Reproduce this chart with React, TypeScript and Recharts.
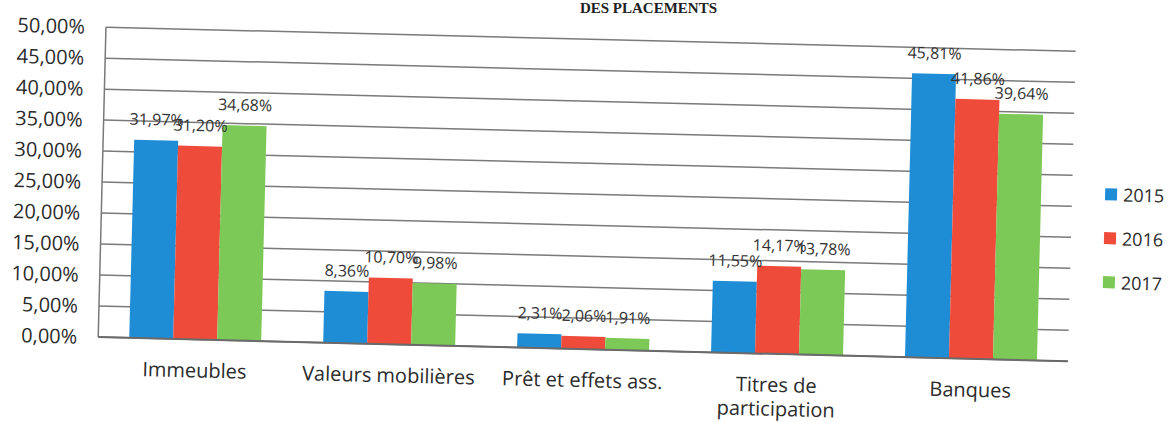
import { BarChart, Bar, XAxis, YAxis, CartesianGrid, LabelList } from 'recharts'

// Répartition des placements, en % du total
const CATEGORIES = ['Immeubles', 'Valeurs mobilières', 'Prêt et effets ass.', 'Titres de\nparticipation', 'Banques']
const YEARS = ['2015', '2016', '2017']
const VALUES_2015 = [31.97, 8.36, 2.31, 11.55, 45.81]
const VALUES_2016 = [31.2, 10.7, 2.06, 14.17, 41.86]
const VALUES_2017 = [34.68, 9.98, 1.91, 13.78, 39.64]
const Y_TICKS = [0, 5, 10, 15, 20, 25, 30, 35, 40, 45, 50]
const COLORS = ['#1f8dd6', '#ee4b3b', '#7cc957']

const FONT = "'Open Sans', sans-serif"

const data = CATEGORIES.map((name, i) => ({
  name,
  v0: VALUES_2015[i],
  v1: VALUES_2016[i],
  v2: VALUES_2017[i],
}))

const pct = (v: number) => `${Number(v).toFixed(2).replace('.', ',')}%`

function CategoryTick({ x, y, payload }: { x?: number; y?: number; payload?: { value: string } }) {
  const lines = String(payload?.value ?? '').split('\n')
  return (
    <text x={x} y={(y ?? 0) + 38} textAnchor="middle" fontSize={20} fontFamily={FONT} fill="#2b2b2b">
      {lines.map((l, i) => (
        <tspan key={i} x={x} dy={i === 0 ? 0 : 24}>
          {l}
        </tspan>
      ))}
    </text>
  )
}

export default function App() {
  return (
    <div style={{ position: 'absolute', left: 0, top: 0, width: 1173, height: 422, overflow: 'hidden', background: '#fff' }}>
      <svg width={1173} height={20} style={{ position: 'absolute', left: 0, top: 0 }}>
        <text x={717} y={13} textAnchor="end" fontSize={15} fontWeight="bold" fontFamily="'Liberation Serif', serif" fill="#222">
          DES PLACEMENTS
        </text>
      </svg>
      <div
        style={{
          position: 'absolute',
          left: 0,
          top: 0,
          width: 1173,
          height: 422,
          transform: 'rotate(1.43deg)',
          transformOrigin: '100px 25px',
        }}
      >
        <BarChart
          width={1173}
          height={422}
          data={data}
          margin={{ top: 27, right: 97, bottom: 0, left: 0 }}
          barGap={0}
          barCategoryGap="16%"
        >
          <CartesianGrid vertical={false} stroke="#7a7a7a" strokeWidth={1.5} />
          <XAxis
            dataKey="name"
            height={85}
            tickSize={0}
            tickMargin={0}
            tickLine={false}
            axisLine={{ stroke: '#6a6a6a', strokeWidth: 2 }}
            tick={<CategoryTick />}
            interval={0}
          />
          <YAxis
            width={106}
            domain={[0, 50]}
            ticks={Y_TICKS}
            interval={0}
            tickFormatter={pct}
            tickSize={0}
            tickMargin={21}
            axisLine={{ stroke: '#7a7a7a', strokeWidth: 1.5 }}
            tick={{ fontSize: 20, fontFamily: FONT, fill: '#2b2b2b' }}
          />
          {YEARS.map((year, i) => (
            <Bar key={year} dataKey={`v${i}`} name={year} fill={COLORS[i]} isAnimationActive={false}>
              <LabelList
                dataKey={`v${i}`}
                position="top"
                offset={15}
                formatter={(v: number) => pct(v)}
                style={{ fontSize: 16, fontFamily: FONT, fill: '#333' }}
              />
            </Bar>
          ))}
        </BarChart>
        <div style={{ position: 'absolute', left: 1109, top: 147, fontFamily: FONT }}>
          {YEARS.map((year, i) => (
            <div key={year} style={{ height: 44, display: 'flex', alignItems: 'center', whiteSpace: 'nowrap' }}>
              <span style={{ width: 12, height: 12, background: COLORS[i], display: 'inline-block', marginRight: 6 }} />
              <span style={{ fontSize: 18, color: '#2b2b2b' }}>{year}</span>
            </div>
          ))}
        </div>
      </div>
    </div>
  )
}
